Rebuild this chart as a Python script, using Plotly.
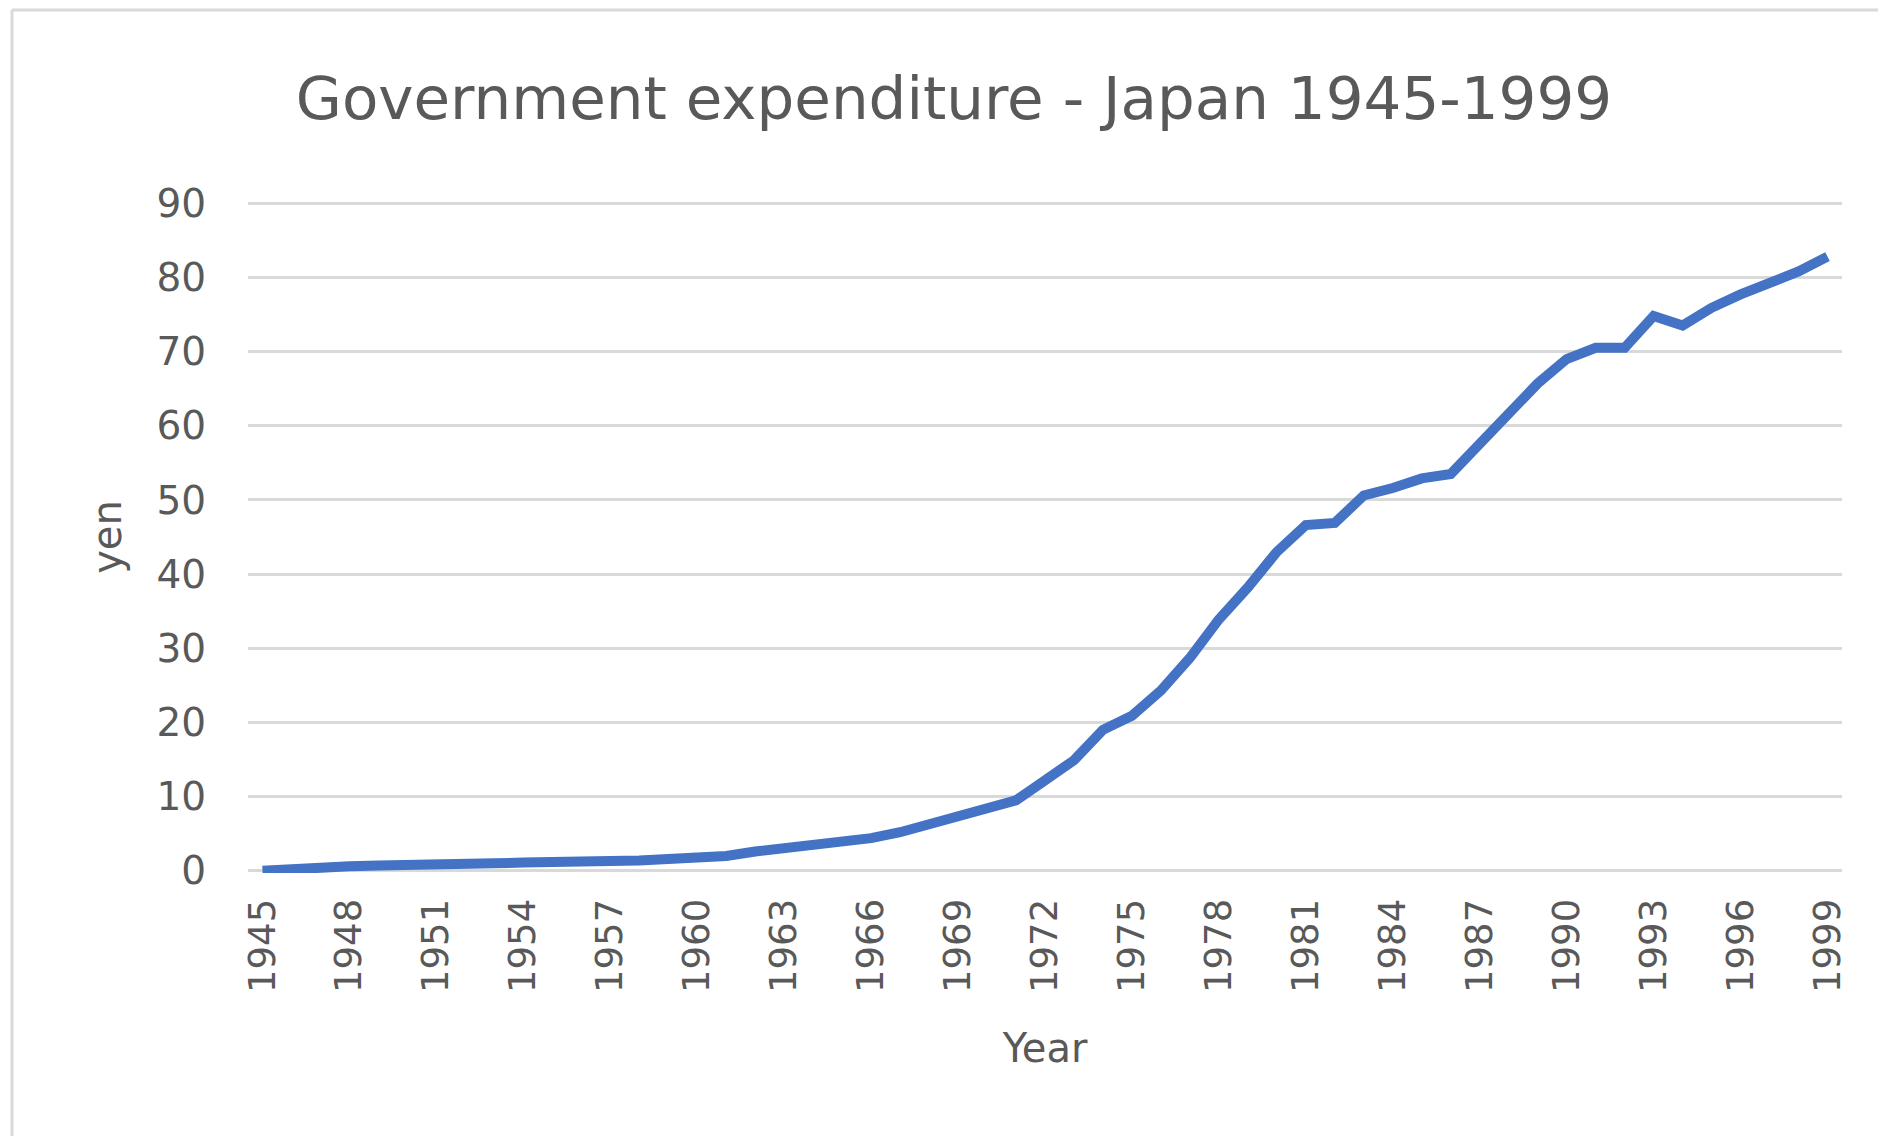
import plotly.graph_objects as go

years = list(range(1945, 2000))
expenditure = [
    0.0, 0.3, 0.4, 0.6, 0.7, 0.7, 0.8, 1.0, 1.0, 1.1,
    1.1, 1.1, 1.3, 1.4, 1.6, 1.7, 2.0, 2.6, 3.0, 3.3,
    3.7, 4.4, 5.2, 6.3, 7.3, 8.3, 9.5, 12.2, 14.9, 19.0,
    20.9, 24.3, 28.7, 33.9, 38.2, 43.0, 46.6, 46.9, 50.6, 51.6,
    52.9, 53.5, 57.6, 61.6, 65.7, 69.0, 70.5, 70.5, 74.8, 73.5,
    75.9, 77.7, 79.3, 80.8, 82.8,
]
tick_years = list(range(1945, 2000, 3))
y_ticks = list(range(0, 91, 10))

W, H = 1878, 1136
L, R, T, B = 248, 36, 201, 263

fig = go.Figure()
fig.add_trace(go.Scatter(
    x=years, y=expenditure, mode="lines",
    line=dict(color="#4472C4", width=10, shape="linear"),
    hoverinfo="x+y", showlegend=False,
))

font_family = "DejaVu Sans, sans-serif"
text_color = "#595959"

fig.update_layout(
    width=W, height=H,
    margin=dict(l=L, r=R, t=T, b=B, pad=0),
    paper_bgcolor="white", plot_bgcolor="white",
    font=dict(family=font_family, color=text_color, size=38),
    title=dict(
        text="Government expenditure - Japan 1945-1999",
        x=954 / W, xref="container", xanchor="center",
        y=1 - 98 / H, yref="container", yanchor="middle",
        font=dict(size=59.5, color=text_color, family=font_family),
    ),
    xaxis=dict(
        range=[1944.5, 1999.5],
        tickmode="array", tickvals=tick_years,
        ticktext=[str(y) for y in tick_years],
        tickangle=-90,
        showgrid=False, zeroline=False, showline=False,
        ticks="outside", ticklen=10, tickcolor="rgba(0,0,0,0)",
        tickfont=dict(size=37, color=text_color),
        title=dict(text="Year", font=dict(size=40, color=text_color), standoff=42),
    ),
    yaxis=dict(
        range=[-0.3, 90.3],
        tickmode="array", tickvals=y_ticks,
        showgrid=True, gridcolor="#D9D9D9", gridwidth=2.5,
        zeroline=False, showline=False,
        ticks="outside", ticklen=33, tickcolor="rgba(0,0,0,0)",
        tickfont=dict(size=39, color=text_color),
        title=dict(text="yen", font=dict(size=40, color=text_color), standoff=22),
    ),
    shapes=[
        dict(type="line", xref="paper", yref="paper",
             x0=(12 - L) / (W - L - R), x1=1.2,
             y0=1 + (T - 10) / (H - T - B), y1=1 + (T - 10) / (H - T - B),
             line=dict(color="#D9D9D9", width=3)),
        dict(type="line", xref="paper", yref="paper",
             x0=(12 - L) / (W - L - R), x1=(12 - L) / (W - L - R),
             y0=-0.5, y1=1 + (T - 10) / (H - T - B),
             line=dict(color="#D9D9D9", width=3)),
    ],
)

fig.write_html(
    "out.html",
    config={"displayModeBar": False},
    post_script="document.body.style.margin='0';document.body.style.overflow='hidden';",
)
